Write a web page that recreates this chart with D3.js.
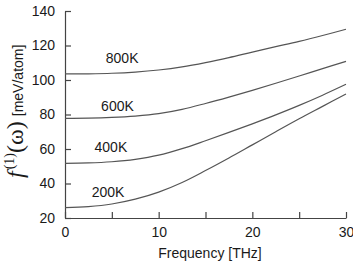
<!DOCTYPE html>
<html>
<head>
<meta charset="utf-8">
<script src="https://cdn.jsdelivr.net/npm/d3@7/dist/d3.min.js"></script>
<style>
  html, body { margin: 0; padding: 0; background: #fff; }
  svg { display: block; }
  text { font-family: "Liberation Sans", Arial, Helvetica, sans-serif; fill: #1a1a1a; }
</style>
</head>
<body>
<script>
// ---- data ----
const freq = [0, 2.5, 5, 7.5, 10, 12.5, 15, 17.5, 20, 22.5, 25, 27.5, 30];
const k800 = [103.5, 103.6, 103.9, 104.6, 105.8, 107.6, 110.1, 113.0, 116.2, 119.3, 122.4, 125.8, 129.4];
const k600 = [77.8, 77.9, 78.3, 79.1, 80.5, 83.0, 86.4, 90.1, 94.0, 98.1, 102.3, 106.6, 110.8];
const k400 = [51.7, 51.9, 52.6, 54.0, 56.4, 60.2, 64.8, 69.6, 74.6, 79.8, 85.3, 91.2, 97.5];
const k200 = [26.0, 26.6, 28.1, 30.9, 35.0, 40.6, 47.5, 54.8, 62.4, 70.0, 77.5, 84.7, 91.9];
const seriesNames = ["800K", "600K", "400K", "200K"];
const labelFreq = [6.1, 5.6, 4.9, 4.6];
const labelVal = [112.8, 84.9, 61.0, 35.2];
const xTicks = [0, 5, 10, 15, 20, 25, 30];
const xTickLabels = ["0", "", "10", "", "20", "", "30"];
const yTicks = [20, 40, 60, 80, 100, 120, 140];

const W = 353, H = 263;
const svg = d3.select("body").append("svg").attr("width", W).attr("height", H);

const x = d3.scaleLinear().domain([0, 30]).range([65, 346]);
const y = d3.scaleLinear().domain([20, 140]).range([218, 11]);

const axisColor = "#444";

// x axis
const gx = svg.append("g").attr("transform", `translate(0,${y(20)})`)
  .call(d3.axisBottom(x).tickValues(xTicks).tickSizeInner(-6).tickSizeOuter(0).tickPadding(9)
    .tickFormat((d, i) => xTickLabels[i]));
// y axis
const gy = svg.append("g").attr("transform", `translate(${x(0)},0)`)
  .call(d3.axisLeft(y).tickValues(yTicks).tickSizeInner(-6).tickSizeOuter(0).tickPadding(10));

[gx, gy].forEach(g => {
  g.selectAll("path, line").attr("stroke", axisColor).attr("stroke-width", 1.2);
  g.selectAll("text").style("font-size", "14px").attr("fill", "#1a1a1a")
    .style("font-family", '"Liberation Sans", Arial, sans-serif');
});

// curves
const seriesVals = [k800, k600, k400, k200];
const line = d3.line().x(d => x(d[0])).y(d => y(d[1])).curve(d3.curveCatmullRom.alpha(0.5));
seriesVals.forEach((vals, i) => {
  svg.append("path")
    .datum(freq.map((f, j) => [f, vals[j]]))
    .attr("d", line)
    .attr("fill", "none")
    .attr("stroke", "#555")
    .attr("stroke-width", 1.2);
  svg.append("text")
    .attr("x", x(labelFreq[i]))
    .attr("y", y(labelVal[i]))
    .attr("dy", "0.35em")
    .attr("text-anchor", "middle")
    .style("font-size", "14px")
    .text(seriesNames[i]);
});

// x title
svg.append("text")
  .attr("x", 210).attr("y", 258)
  .attr("text-anchor", "middle")
  .style("font-size", "14px")
  .text("Frequency [THz]");

// y title
const yt = svg.append("text")
  .attr("transform", "translate(23,178) rotate(-90)")
  .attr("x", 0).attr("y", 0)
  .attr("text-anchor", "start");
yt.append("tspan").style("font-family", '"Liberation Serif", "Times New Roman", serif')
  .style("font-style", "italic").style("font-size", "24px").text("f");
yt.append("tspan").style("font-family", '"Liberation Serif", "Times New Roman", serif')
  .style("font-size", "14px").attr("dy", -9).attr("dx", 2).text("(1)");
yt.append("tspan").style("font-family", '"Liberation Serif", "Times New Roman", serif')
  .style("font-size", "24px").attr("dy", 9).text("(ω)");
yt.append("tspan").style("font-size", "14px").attr("dx", 5).text("[meV/atom]");
</script>
</body>
</html>
